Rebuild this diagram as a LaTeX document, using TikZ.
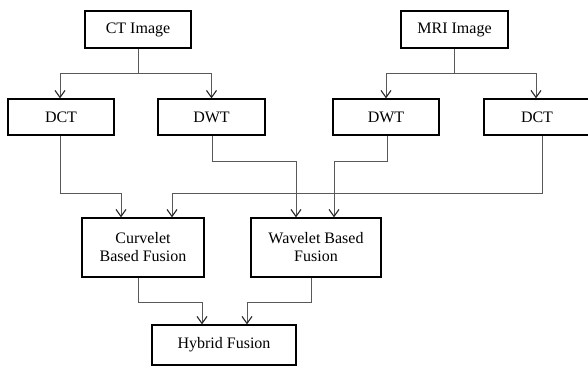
\documentclass[tikz,border=0pt]{standalone}
\usepackage{fontspec}
\setmainfont{Liberation Serif}
\usetikzlibrary{arrows.meta}
\begin{document}
\begin{tikzpicture}[x=1pt,y=-1pt,
  box/.style={draw=black,line width=1.3pt,fill=white,inner sep=0pt,font=\fontsize{16}{18}\selectfont,align=center},
  conn/.style={draw=black!65,line width=0.9pt},
  arr/.style={conn,-{Straight Barb[length=7pt,width=10pt,line width=1.1pt,color=black!85]}}]
\useasboundingbox (0,0) rectangle (588,365);
\node[box,minimum width=106pt,minimum height=37pt] (ct) at (138,29.5) {CT Image};
\node[box,minimum width=107pt,minimum height=37pt] (mri) at (454.5,29.5) {MRI Image};
\node[box,minimum width=106pt,minimum height=36pt] (dct1) at (61,117) {DCT};
\node[box,minimum width=107pt,minimum height=36pt] (dwt1) at (211.5,117) {DWT};
\node[box,minimum width=106pt,minimum height=36pt] (dwt2) at (386,117) {DWT};
\node[box,minimum width=106pt,minimum height=36pt] (dct2) at (537,117) {DCT};
\node[box,minimum width=122pt,minimum height=59pt] (cur) at (143,247.5) {Curvelet\\Based Fusion};
\node[box,minimum width=130pt,minimum height=59pt] (wav) at (316,247.5) {Wavelet Based\\Fusion};
\node[box,minimum width=144pt,minimum height=40pt] (hyb) at (224,345) {Hybrid Fusion};
% top splits
\draw[arr] (ct.south) -- ++(0,25) -| ([xshift=-1pt]dct1.north);
\draw[arr] (ct.south) -- ++(0,25) -| (dwt1.north);
\draw[arr] (mri.south) -- ++(0,25) -| (dwt2.north);
\draw[arr] (mri.south) -- ++(0,25) -| ([xshift=-1pt]dct2.north);
% to fusion boxes
\draw[arr] ([xshift=-1pt]dct1.south) -- ++(0,58) -| ([xshift=-22pt]cur.north);
\draw[arr] ([xshift=5pt]dct2.south) -- ++(0,58) -| ([xshift=29pt]cur.north);
\draw[arr] ([xshift=0.5pt]dwt1.south) -- ++(0,26) -| ([xshift=-20pt]wav.north);
\draw[arr] ([xshift=1pt]dwt2.south) -- ++(0,26) -| ([xshift=18pt]wav.north);
% to hybrid
\draw[arr] ([xshift=-5pt]cur.south) -- ++(0,25) -| ([xshift=-22pt]hyb.north);
\draw[arr] ([xshift=-5pt]wav.south) -- ++(0,25) -| ([xshift=23pt]hyb.north);
\end{tikzpicture}
\end{document}
